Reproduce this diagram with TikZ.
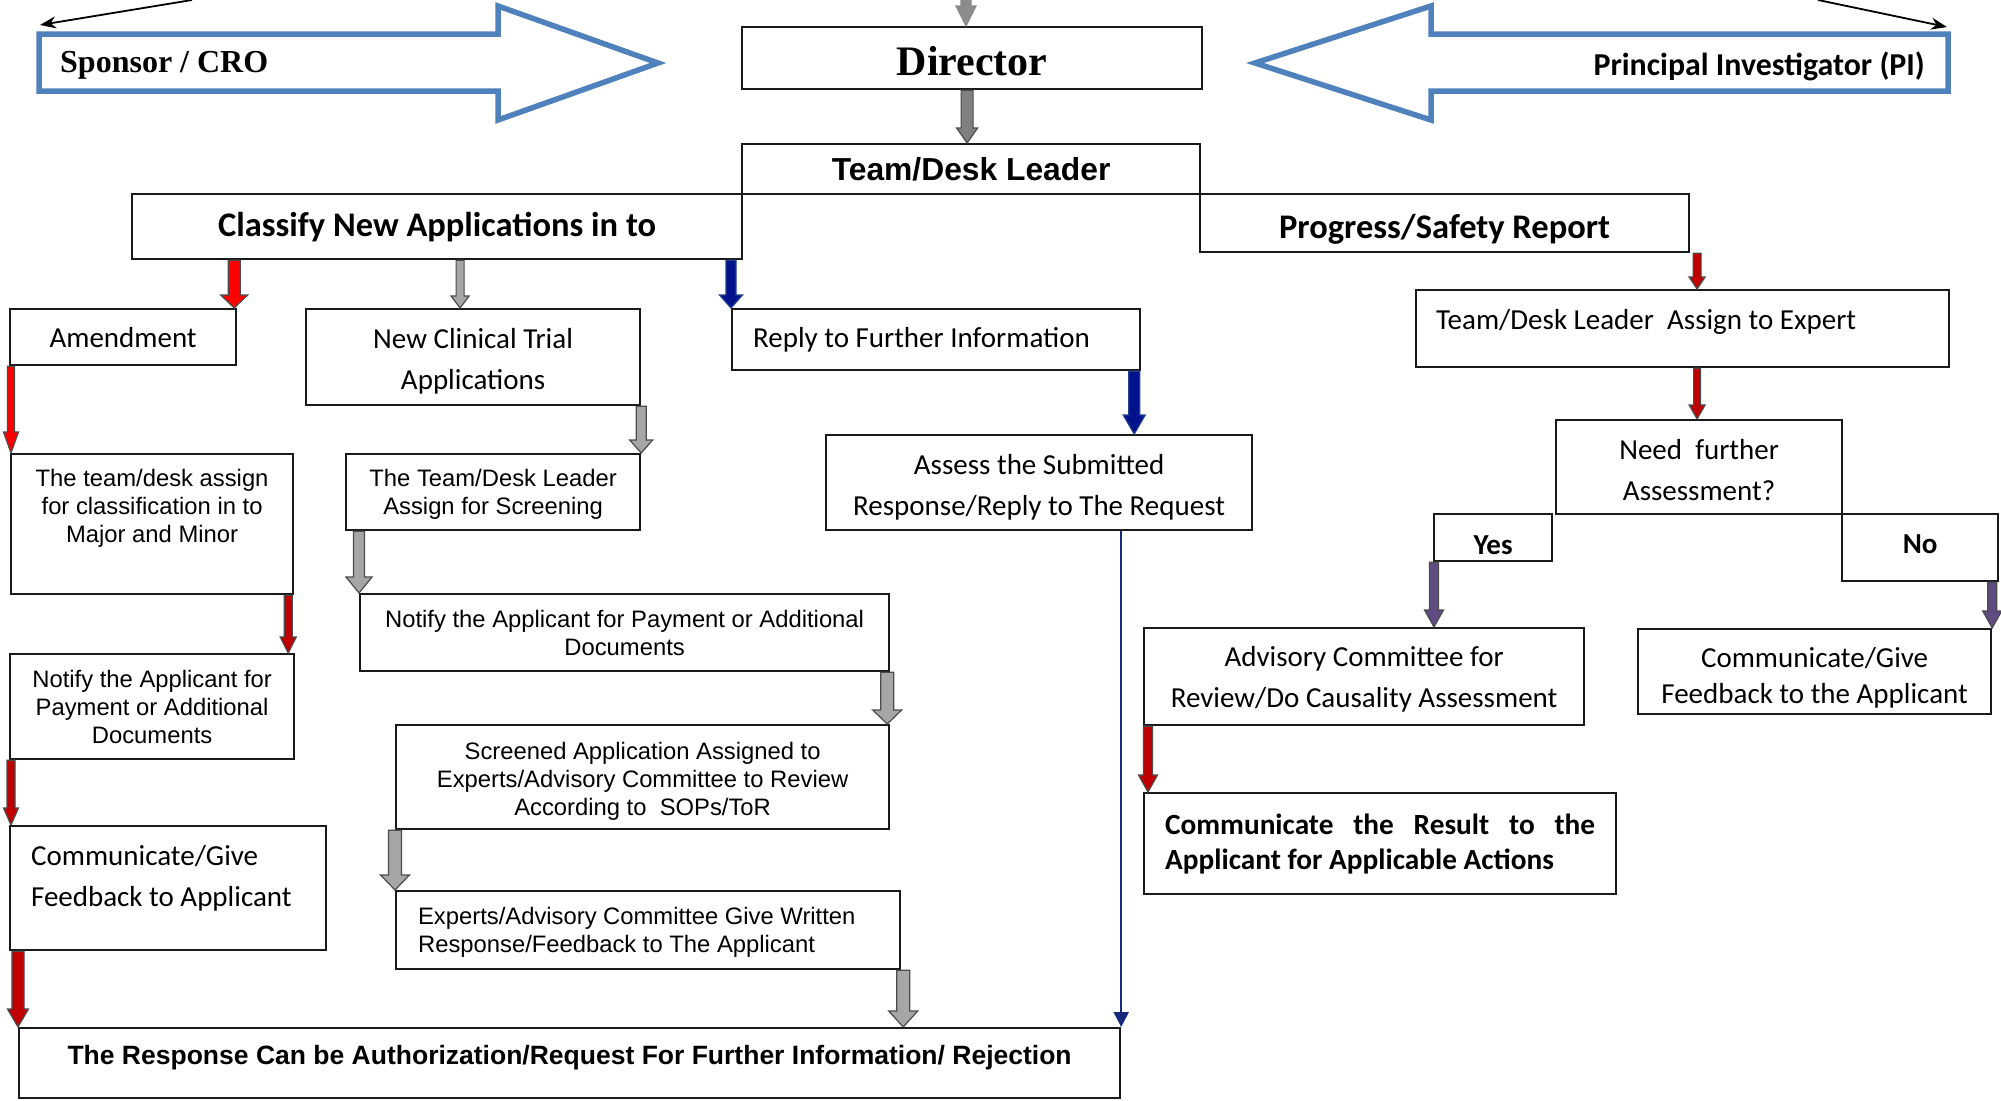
\documentclass[tikz,border=0pt]{standalone}
\usepackage{fontspec}
\setmainfont{Liberation Serif}
\newfontfamily\calfont{Carlito}
\newfontfamily\arialfont{Liberation Sans}
\usepackage{tikz}
\usetikzlibrary{calc,arrows.meta}

\definecolor{officeblue}{RGB}{79,129,189}
\definecolor{brightred}{RGB}{255,0,0}
\definecolor{darkred}{RGB}{192,0,0}
\definecolor{navyfill}{RGB}{0,18,140}
\definecolor{navyline}{RGB}{36,64,140}
\definecolor{thinnavy}{RGB}{20,40,125}
\definecolor{arrgray}{RGB}{166,166,166}
\definecolor{dirgray}{RGB}{128,128,128}
\definecolor{topgray}{RGB}{140,140,140}
\definecolor{purplefill}{RGB}{95,75,130}
\definecolor{boxline}{RGB}{26,26,26}

\newcommand{\lowstrut}[1]{\rule[-#1]{0pt}{#1}}
\newcommand{\highstrut}[1]{\rule{0pt}{#1}}
% vertical block arrow: [outline]{fill}{half shaft}{half head}{head length}{from}{to}
\newcommand{\blockarrow}[7][black!70]{%
  \path[draw=#1, fill=#2, line width=1.2pt]
    let \p1=#6, \p2=#7 in
    (\x1-#3,\y1) -- (\x1-#3,\y2+#5) -- (\x1-#4,\y2+#5) -- (\x1,\y2)
    -- (\x1+#4,\y2+#5) -- (\x1+#3,\y2+#5) -- (\x1+#3,\y1) -- cycle;}

\tikzset{
  flowbox/.style={draw=boxline, line width=2.2pt, anchor=north west, inner sep=0pt, align=center},
  calib/.style={font=\calfont\fontsize{29}{41}\selectfont},
  calibbold/.style={font=\calfont\bfseries\fontsize{34.5}{40}\selectfont},
  arialtxt/.style={font=\arialfont\fontsize{23.8}{28}\selectfont},
  bigarrow/.style={draw=officeblue, line width=5.5pt, fill=white},
  thinarrow/.style={line width=1.8pt, -{Stealth[length=16pt,width=12pt]}},
}

\begin{document}
\begin{tikzpicture}[x=1pt,y=-1pt]
\useasboundingbox[fill=white] (0,0) rectangle (2001,1100);

% side arrows
\draw[bigarrow] (39,34) -- (498,34) -- (498,6) -- (658,63) -- (498,120) -- (498,91) -- (39,91) -- cycle;
\node[anchor=base west, inner sep=0pt, font=\bfseries\fontsize{32}{36}\selectfont] (sponsor) at (60,72) {Sponsor / CRO};
\draw[bigarrow] (1948,34) -- (1431,34) -- (1431,6) -- (1255,63) -- (1431,120) -- (1431,91) -- (1948,91) -- cycle;
\node[anchor=base east, inner sep=0pt, font=\calfont\bfseries\fontsize{31.9}{36}\selectfont] (pi) at (1925,75) {Principal Investigator (PI)};

\coordinate (sptop) at (192,0);
\coordinate (spcorner) at (40,25);
\draw[thinarrow] (sptop) -- (spcorner);
\coordinate (pitop) at (1818,0);
\coordinate (picorner) at (1947,27);
\draw[thinarrow] (pitop) -- (picorner);

% boxes
\node[flowbox, minimum width=460pt, minimum height=62pt, font=\bfseries\fontsize{42}{48}\selectfont] (director) at (741,26) {\highstrut{35pt}Director};
\node[flowbox, minimum width=458pt, minimum height=50pt, font=\arialfont\bfseries\fontsize{31.8}{36}\selectfont] (team) at (741,143) {Team/Desk Leader};
\node[flowbox, calibbold, minimum width=610pt, minimum height=65pt] (classify) at (131,193) {Classify New Applications in to};
\node[flowbox, calibbold, minimum width=489pt, minimum height=58pt] (progress) at (1199,193) {\highstrut{36pt}Progress/Safety Report};

\node[flowbox, calib, minimum width=226pt, minimum height=56pt] (amend) at (9,308) {Amendment};
\node[flowbox, calib, minimum width=334pt, minimum height=96pt] (nct) at (305,308) {\highstrut{29pt}New Clinical Trial\\Applications};
\node[flowbox, calib, minimum width=408pt, minimum height=61pt, inner xsep=21pt, text width=366pt, align=flush left] (reply) at (731,308) {Reply to Further Information};
\node[flowbox, calib, minimum width=533pt, minimum height=77pt, inner xsep=20pt, text width=493pt, align=flush left] (expert) at (1415,289) {Team/Desk Leader~ Assign to Expert\lowstrut{19pt}};

\node[flowbox, arialtxt, minimum width=282pt, minimum height=140pt] (assign) at (10,453) {The team/desk assign\\for classification in to\\Major and Minor\lowstrut{37pt}};
\node[flowbox, arialtxt, minimum width=294pt, minimum height=76pt] (screen) at (345,453) {\highstrut{22pt}The Team/Desk Leader\\Assign for Screening};
\node[flowbox, calib, minimum width=426pt, minimum height=95pt] (assess) at (825,434) {\highstrut{29pt}Assess the Submitted\\Response/Reply to The Request};
\node[flowbox, calib, minimum width=286pt, minimum height=94pt] (need) at (1555,419) {\highstrut{26pt}Need~ further\\Assessment?};
\node[flowbox, font=\calfont\bfseries\fontsize{29}{34}\selectfont, minimum width=118pt, minimum height=47pt] (yes) at (1433,513) {\highstrut{33pt}Yes};
\node[flowbox, font=\calfont\bfseries\fontsize{29}{34}\selectfont, minimum width=156pt, minimum height=67pt] (no) at (1841,513) {No\lowstrut{8pt}};

\node[flowbox, arialtxt, minimum width=284pt, minimum height=105pt] (notleft) at (9,653) {Notify the Applicant for\\Payment or Additional\\Documents};
\node[flowbox, arialtxt, minimum width=529pt, minimum height=77pt] (notmid) at (359,593) {Notify the Applicant for Payment or Additional\\Documents};
\node[flowbox, arialtxt, minimum width=493pt, minimum height=104pt] (screened) at (395,724) {\highstrut{25pt}Screened Application Assigned to\\Experts/Advisory Committee to Review\\According to~ SOPs/ToR};
\node[flowbox, arialtxt, minimum width=504pt, minimum height=78pt, inner xsep=22pt, text width=460pt, align=flush left] (experts) at (395,890) {\highstrut{22pt}Experts/Advisory Committee Give Written\\Response/Feedback to The Applicant};
\node[flowbox, calib, minimum width=316pt, minimum height=124pt, inner xsep=21pt, text width=274pt, align=flush left] (commleft) at (9,825) {Communicate/Give\\Feedback to Applicant\lowstrut{24pt}};

\node[flowbox, calib, minimum width=440pt, minimum height=97pt] (advisory) at (1143,627) {\highstrut{26pt}Advisory Committee for\\Review/Do Causality Assessment};
\node[flowbox, font=\calfont\fontsize{29}{36}\selectfont, minimum width=353pt, minimum height=85pt] (commr) at (1637,628) {\highstrut{33pt}Communicate/Give\\Feedback to the Applicant};
\node[flowbox, font=\calfont\bfseries\fontsize{29.3}{35}\selectfont, minimum width=472pt, minimum height=101pt, inner xsep=21pt, text width=430pt, align=flush left] (result) at (1143,792) {Communicate\hfill the\hfill Result\hfill to\hfill the\\Applicant for Applicable Actions};

\node[flowbox, font=\arialfont\bfseries\fontsize{26.5}{30}\selectfont, minimum width=1101pt, minimum height=70pt] (bottom) at (18,1027) {The Response Can be Authorization/Request For Further Information/ Rejection\lowstrut{16pt}};

% block arrows
\coordinate (dirin) at (966,0);
\blockarrow[topgray]{topgray}{5pt}{10pt}{20pt}{(dirin)}{(dirin |- director.north)}
\blockarrow{dirgray}{6pt}{10.5pt}{15pt}{($(director.south)+(-5,0)$)}{($(director.south |- team.north)+(-5,0)$)}

\blockarrow{brightred}{6pt}{13.5pt}{13pt}{($(amend.north east |- classify.south)+(-3,0)$)}{($(amend.north east)+(-3,0)$)}
\blockarrow{arrgray}{4pt}{9pt}{12pt}{($(nct.north |- classify.south)+(-13,0)$)}{($(nct.north)+(-13,0)$)}
\blockarrow[navyline]{navyfill}{5pt}{11.5pt}{13pt}{(reply.north west |- classify.south)}{(reply.north west)}

\blockarrow{brightred}{3.5pt}{7.5pt}{21pt}{($(amend.south west)+(2,0)$)}{($(amend.south west |- assign.north)+(2,0)$)}
\blockarrow{darkred}{4pt}{8pt}{16pt}{($(assign.south east)+(-6,0)$)}{($(assign.south east |- notleft.north)+(-6,0)$)}
\blockarrow{darkred}{4pt}{7.5pt}{17pt}{($(notleft.south west)+(2,0)$)}{($(notleft.south west |- commleft.north)+(2,0)$)}
\blockarrow{darkred}{6pt}{10.5pt}{18pt}{(bottom.north west |- commleft.south)}{(bottom.north west)}

\blockarrow{arrgray}{5pt}{11.5pt}{13pt}{(nct.south east)}{(screen.north east)}
\blockarrow{arrgray}{5.5pt}{13pt}{16pt}{(notmid.north west |- screen.south)}{(notmid.north west)}
\blockarrow{arrgray}{6.5pt}{14.5pt}{14pt}{($(notmid.south east)+(-3,0)$)}{($(screened.north east)+(-3,0)$)}
\blockarrow{arrgray}{6.5pt}{14.5pt}{15pt}{(screened.south west)}{(experts.north west)}
\blockarrow{arrgray}{6.5pt}{14.5pt}{16pt}{($(experts.south east)+(2,0)$)}{($(experts.south east |- bottom.north)+(2,0)$)}

\blockarrow[navyline]{navyfill}{5.5pt}{11pt}{19pt}{($(reply.south east)+(-7,0)$)}{($(reply.south east |- assess.north)+(-7,0)$)}
\draw[line width=2pt, draw=thinnavy, -{Triangle[length=15pt,width=15pt]}] (bottom.north east |- assess.south) -- (bottom.north east);

\blockarrow{darkred}{4pt}{8pt}{12pt}{($(need.north |- progress.south)+(-2,0)$)}{($(need.north |- expert.north)+(-2,0)$)}
\blockarrow{darkred}{3.5pt}{8pt}{14pt}{($(need.north |- expert.south)+(-2,0)$)}{($(need.north)+(-2,0)$)}
\blockarrow{purplefill}{4.5pt}{9.5pt}{17pt}{($(yes.south west)+(1,0)$)}{($(yes.south west |- advisory.north)+(1,0)$)}
\blockarrow{purplefill}{4.5pt}{9.5pt}{17pt}{(commr.north east |- no.south)}{(commr.north east)}
\blockarrow{darkred}{4.5pt}{9.5pt}{17pt}{($(advisory.south west)+(5,0)$)}{($(advisory.south west |- result.north)+(5,0)$)}
\end{tikzpicture}
\end{document}
